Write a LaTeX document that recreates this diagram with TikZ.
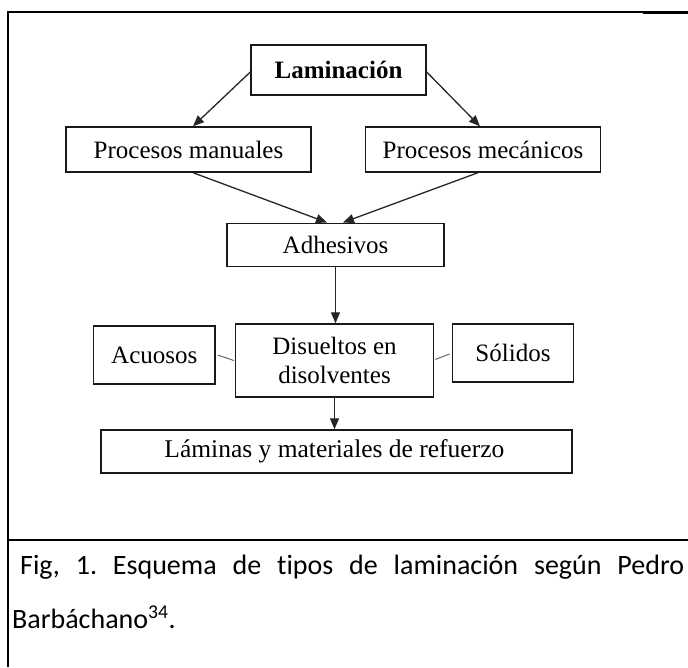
\documentclass[tikz,border=0pt]{standalone}
\usepackage{fontspec}
\setmainfont{Liberation Serif}
\newfontfamily\capfont[Ligatures=CommonOff]{Carlito}
\usetikzlibrary{arrows.meta,calc}
\frenchspacing
\begin{document}
\begin{tikzpicture}[x=1pt,y=-1pt,
  box/.style={draw=black!90, line width=1.4pt, inner sep=0pt, align=center, font=\fontsize{25}{29}\selectfont},
  arr/.style={draw=black!85, line width=1.3pt, -{Triangle[length=11pt,width=9pt]}},
  link/.style={draw=black!60, line width=1pt},
  framethick/.style={line width=2.4pt},
  framethin/.style={line width=1.3pt},
  captext/.style={anchor=base west, inner sep=0pt, font=\capfont\fontsize{28}{34}\selectfont}]
\useasboundingbox (0,0) rectangle (688,667);
% frame
\draw[framethick] (8,11) -- (8,667);
\draw[framethin] (7,12) -- (643,12);
\draw[line width=3pt] (643,12.5) -- (688,12.5);
\draw[line width=2pt] (7,540) -- (688,540);
% nodes
\node[box, minimum width=175pt, minimum height=50pt] (lam) at (338.5,70) {\bfseries Laminación};
\node[box, minimum width=245pt, minimum height=45pt] (pm) at (188.5,149.5) {Procesos manuales};
\node[box, minimum width=235pt, minimum height=45pt] (pmec) at (483,149.5) {Procesos mecánicos};
\node[box, minimum width=217pt, minimum height=43pt] (adh) at (335.5,244.7) {Adhesivos};
\node[box, minimum width=121.5pt, minimum height=58pt] (ac) at (154.3,355) {Acuosos};
\node[box, minimum width=198pt, minimum height=73pt] (dis) at (334.5,360.5) {Disueltos en\\disolventes};
\node[box, minimum width=121.5pt, minimum height=58pt] (sol) at (513,353) {Sólidos};
\node[box, minimum width=471pt, minimum height=43pt, font=\fontsize{25.5}{29}\selectfont] (lm) at (336.4,451.5) {\makebox[471pt][c]{Láminas y materiales de refuerzo\hspace*{4pt}}};
% connectors
\draw[arr] ($(lam.west)+(0,2)$) -- ($(pm.north)+(4.5,0)$);
\draw[arr] ($(lam.east)+(0,2)$) -- ($(pmec.north)+(-3,0)$);
\draw[arr] ($(pm.south)+(4.5,0)$) -- ($(adh.north)+(-8.5,0)$);
\draw[arr] ($(pmec.south)+(-5,0)$) -- ($(adh.north)+(7.5,0)$);
\draw[arr] (adh.south) -- (adh.south |- dis.north);
\draw[arr] (dis.south) -- (dis.south |- lm.north);
\draw[link] ($(ac.east)+(2,0)$) -- ($(dis.west)+(-1,0)$);
\draw[link] ($(dis.east)+(1,-1)$) -- ($(sol.west)+(-2,1)$);
% caption
\node[captext] (cap1) at (20,574) {\makebox[664pt][s]{Fig, 1. Esquema de tipos de laminación según Pedro}};
\node[captext] (cap2) at (12,628) {Barbáchano\textsuperscript{34}.};
\end{tikzpicture}
\end{document}
